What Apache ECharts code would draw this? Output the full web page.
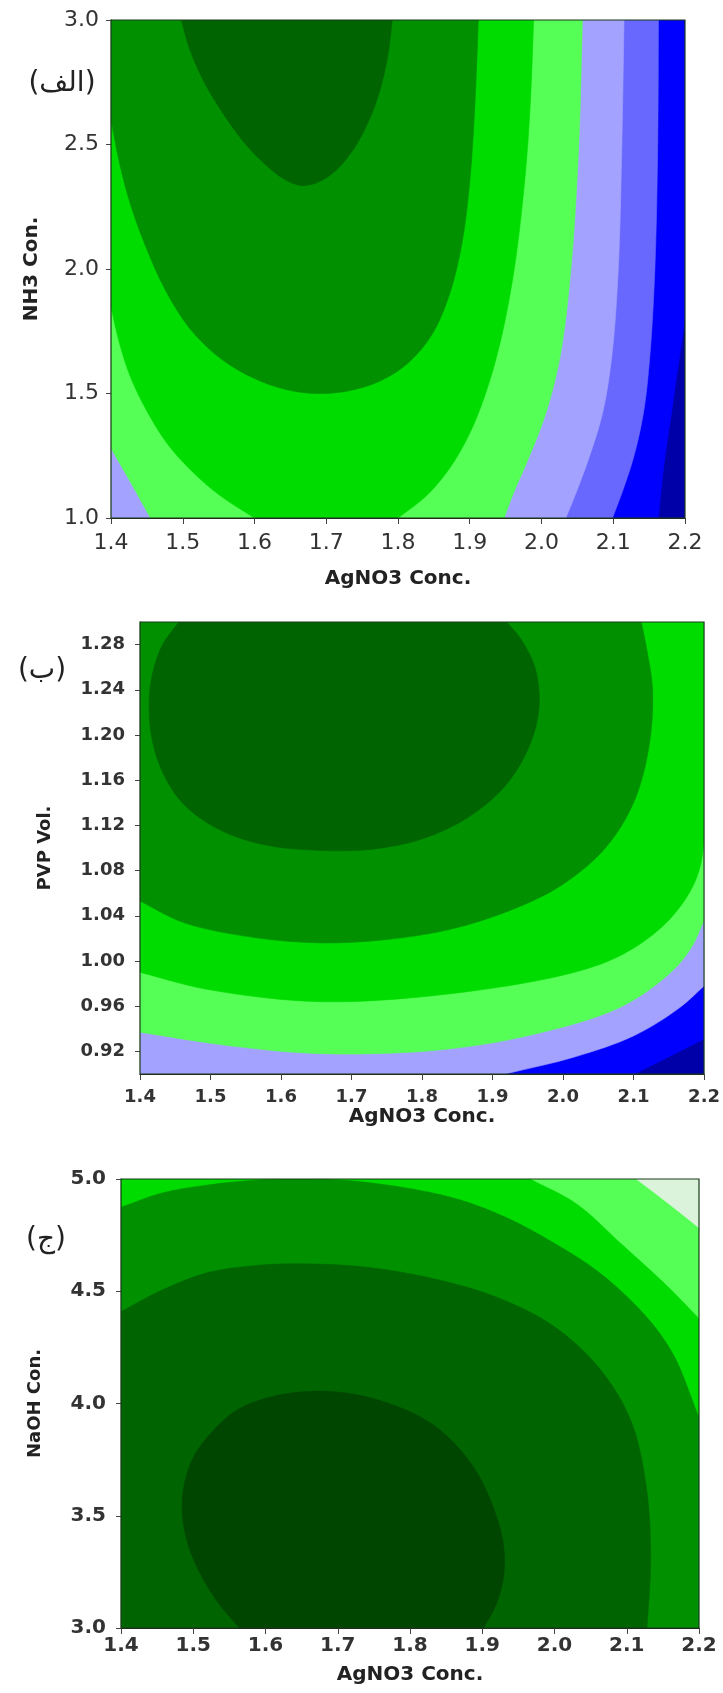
<!DOCTYPE html>
<html><head><meta charset="utf-8">
<script src="https://cdn.jsdelivr.net/npm/echarts@6/dist/echarts.min.js"></script>
<style>html,body{margin:0;padding:0;background:#fff}#c{width:723px;height:1693px}</style>
</head><body><div id="c"></div>
<script>
// ---------- axes ----------
const xRange = [1.4, 2.2];
const yRangeA = [1.0, 3.0];
const yRangeB = [0.9, 1.3];
const yRangeC = [3.0, 5.0];
const yTicksB = [0.92, 0.96, 1.00, 1.04, 1.08, 1.12, 1.16, 1.20, 1.24, 1.28];
const xName = 'AgNO3 Conc.';
const yNames = ['NH3 Con.', 'PVP Vol.', 'NaOH Con.'];
const panelTags = ['(الف)', '(ب)', '(ج)'];

// ---------- colours of the contour bands ----------
const C = {
  navy: '#0000a8', blue: '#0000ff', mblue: '#6868ff', lav: '#a3a3ff',
  pale: '#daf3da', lgreen: '#55ff55', green: '#00dc00', mgreen: '#009000',
  dgreen: '#006500', xgreen: '#004600'
};

// ---------- panel A : AgNO3 vs NH3 (contour boundaries) ----------
const A_navyEdge  = [[2.163,1.0],[2.17,1.2],[2.18,1.4],[2.19,1.6],[2.2,1.8]];
const A_blueEdge  = [[2.163,3.0],[2.162,2.5],[2.158,2.0],[2.151,1.65],[2.142,1.42],[2.128,1.24],[2.112,1.1],[2.099,1.0]];
const A_mblueEdge = [[2.115,3.0],[2.112,2.5],[2.107,2.0],[2.098,1.65],[2.085,1.42],[2.066,1.24],[2.048,1.1],[2.034,1.0]];
const A_lavEdge   = [[2.057,3.0],[2.052,2.5],[2.041,2.0],[2.026,1.65],[2.006,1.42],[1.982,1.24],[1.961,1.1],[1.948,1.0]];
const A_lavCorner = [[1.455,1.0],[1.43,1.13],[1.4,1.28]];
const A_lgreenL   = [[1.4,1.847],[1.412,1.7],[1.428,1.56],[1.45,1.43],[1.478,1.3],[1.512,1.19],[1.552,1.09],[1.6,1.0]];
const A_lgreenR   = [[1.8,1.0],[1.84,1.09],[1.872,1.2],[1.9,1.34],[1.922,1.5],[1.942,1.7],[1.962,2.0],[1.978,2.4],[1.985,2.7],[1.989,3.0]];
const A_greenEdge = [[1.4,2.6],[1.41,2.45],[1.425,2.28],[1.447,2.1],[1.475,1.92],[1.51,1.76],[1.553,1.64],[1.6,1.56],[1.645,1.515],[1.687,1.5],[1.73,1.51],[1.775,1.55],[1.815,1.625],[1.848,1.74],[1.872,1.9],[1.889,2.1],[1.9,2.35],[1.907,2.65],[1.912,3.0]];
const A_mgreenEdge= [[1.498,3.0],[1.51,2.88],[1.53,2.75],[1.555,2.63],[1.585,2.51],[1.615,2.42],[1.642,2.36],[1.665,2.335],[1.69,2.35],[1.715,2.4],[1.74,2.49],[1.76,2.6],[1.775,2.72],[1.786,2.86],[1.792,3.0]];

// ---------- panel B : AgNO3 vs PVP ----------
const B_navyEdge  = [[2.101,0.9],[2.14,0.912],[2.2,0.931]];
const B_blueEdge  = [[1.918,0.9],[2.016,0.915],[2.101,0.934],[2.166,0.959],[2.2,0.978]];
const B_lavEdge   = [[1.4,0.937],[1.527,0.925],[1.657,0.918],[1.82,0.921],[1.951,0.934],[2.081,0.959],[2.153,0.99],[2.182,1.012],[2.2,1.036]];
const B_lgreenEdge= [[1.4,0.99],[1.495,0.975],[1.657,0.964],[1.853,0.972],[2.016,0.99],[2.085,1.006],[2.14,1.03],[2.175,1.056],[2.193,1.08],[2.2,1.105]];
const B_greenEdge = [[1.4,1.053],[1.462,1.034],[1.56,1.021],[1.657,1.016],[1.75,1.019],[1.84,1.028],[1.93,1.046],[2.0,1.068],[2.06,1.1],[2.1,1.14],[2.122,1.19],[2.127,1.24],[2.119,1.275],[2.111,1.3]];
const B_mgreenEdge= [[1.455,1.3],[1.432,1.28],[1.418,1.255],[1.413,1.23],[1.416,1.2],[1.43,1.17],[1.46,1.14],[1.51,1.117],[1.575,1.103],[1.65,1.098],[1.73,1.099],[1.8,1.108],[1.865,1.127],[1.918,1.155],[1.952,1.19],[1.966,1.225],[1.96,1.26],[1.94,1.285],[1.92,1.3]];

// ---------- panel C : AgNO3 vs NaOH ----------
const C_paleEdge  = [[2.112,5.0],[2.157,4.89],[2.2,4.78]];
const C_lgreenEdge= [[1.966,5.0],[2.03,4.89],[2.093,4.709],[2.157,4.52],[2.2,4.378]];
const C_greenEdge = [[1.4,4.874],[1.456,4.937],[1.52,4.973],[1.59,4.995],[1.647,5.0],[1.717,4.992],[1.807,4.953],[1.87,4.906],[1.934,4.827],[1.998,4.717],[2.062,4.583],[2.125,4.394],[2.164,4.22],[2.2,3.937]];
const C_mgreenEdge= [[1.4,4.409],[1.456,4.504],[1.52,4.583],[1.584,4.614],[1.647,4.622],[1.743,4.606],[1.839,4.551],[1.921,4.472],[1.998,4.346],[2.062,4.157],[2.106,3.921],[2.128,3.606],[2.133,3.291],[2.128,3.0]];
const C_dgreenEdge= [[1.564,3.0],[1.535,3.11],[1.51,3.24],[1.493,3.37],[1.485,3.5],[1.487,3.63],[1.5,3.76],[1.525,3.87],[1.56,3.97],[1.608,4.03],[1.666,4.055],[1.725,4.04],[1.78,3.99],[1.83,3.91],[1.868,3.8],[1.895,3.68],[1.916,3.53],[1.929,3.38],[1.93,3.24],[1.92,3.11],[1.902,3.0]];

// ---------- regions (painted from lowest response to highest) ----------
function corners(yr){ return {bl:[[xRange[0],yr[0]]], br:[[xRange[1],yr[0]]], tl:[[xRange[0],yr[1]]], tr:[[xRange[1],yr[1]]]}; }
const kA = corners(yRangeA), kB = corners(yRangeB), kC = corners(yRangeC);

const panels = [
  { yr: yRangeA, layers: [
    {color: C.navy,  pieces: [kA.bl, kA.br, kA.tr, kA.tl]},
    {color: C.blue,  pieces: [A_navyEdge, kA.tr, kA.tl, kA.bl]},
    {color: C.mblue, pieces: [A_blueEdge, kA.bl, kA.tl]},
    {color: C.lav,   pieces: [A_mblueEdge, kA.bl, kA.tl]},
    {color: C.lgreen,pieces: [A_lavEdge, A_lavCorner, kA.tl]},
    {color: C.green, pieces: [A_lgreenL, A_lgreenR, kA.tl]},
    {color: C.mgreen,pieces: [A_greenEdge, kA.tl]},
    {color: C.dgreen,pieces: [A_mgreenEdge]}
  ]},
  { yr: yRangeB, layers: [
    {color: C.navy,  pieces: [kB.bl, kB.br, kB.tr, kB.tl]},
    {color: C.blue,  pieces: [B_navyEdge, kB.tr, kB.tl, kB.bl]},
    {color: C.lav,   pieces: [B_blueEdge, kB.tr, kB.tl, kB.bl]},
    {color: C.lgreen,pieces: [B_lavEdge, kB.tr, kB.tl]},
    {color: C.green, pieces: [B_lgreenEdge, kB.tr, kB.tl]},
    {color: C.mgreen,pieces: [B_greenEdge, kB.tl]},
    {color: C.dgreen,pieces: [B_mgreenEdge]}
  ]},
  { yr: yRangeC, layers: [
    {color: C.pale,  pieces: [kC.bl, kC.br, kC.tr, kC.tl]},
    {color: C.lgreen,pieces: [C_paleEdge, kC.br, kC.bl, kC.tl]},
    {color: C.green, pieces: [C_lgreenEdge, kC.br, kC.bl, kC.tl]},
    {color: C.mgreen,pieces: [C_greenEdge, kC.br, kC.bl]},
    {color: C.dgreen,pieces: [C_mgreenEdge, kC.bl]},
    {color: C.xgreen,pieces: [C_dgreenEdge]}
  ]}
];

// centripetal Catmull-Rom through the read boundary points (pixel space)
function ctrl(p0, p1, p2, p3){
  const d = (a, b) => Math.sqrt(Math.hypot(b[0]-a[0], b[1]-a[1])) || 1e-6;
  const d1 = d(p0,p1), d2 = d(p1,p2), d3 = d(p2,p3);
  const A = d1*d1, B = d2*d2, Cc = d3*d3;
  const b1 = [0,1].map(k => (A*p2[k] - B*p0[k] + (2*A + 3*d1*d2 + B)*p1[k]) / (3*d1*(d1+d2)));
  const b2 = [0,1].map(k => (Cc*p1[k] - B*p3[k] + (2*Cc + 3*d3*d2 + B)*p2[k]) / (3*d3*(d3+d2)));
  return [b1, b2];
}
function buildPath(pieces, api){
  let d = '';
  pieces.forEach((piece, k) => {
    const pts = piece.map(p => api.coord(p));
    const n = pts.length;
    d += (k === 0 ? 'M' : 'L') + pts[0][0] + ' ' + pts[0][1] + ' ';
    for (let i = 0; i < n - 1; i++) {
      const p1 = pts[i], p2 = pts[i+1];
      const p0 = i > 0 ? pts[i-1] : [2*p1[0]-p2[0], 2*p1[1]-p2[1]];
      const p3 = i + 2 < n ? pts[i+2] : [2*p2[0]-p1[0], 2*p2[1]-p1[1]];
      const [c1, c2] = ctrl(p0, p1, p2, p3);
      d += 'C' + c1[0] + ' ' + c1[1] + ' ' + c2[0] + ' ' + c2[1] + ' ' + p2[0] + ' ' + p2[1] + ' ';
    }
  });
  return d + 'Z';
}

const series = [];
panels.forEach((pn, gi) => {
  pn.layers.forEach(layer => {
    const pts = [].concat(...layer.pieces);
    series.push({
      type: 'custom', xAxisIndex: gi, yAxisIndex: gi, silent: true,
      data: pts, encode: {x: 0, y: 1},
      renderItem: (params, api) => {
        if (params.dataIndex !== 0) return null;
        const cs = params.coordSys;
        return {
          type: 'path',
          shape: {pathData: buildPath(layer.pieces, api)},
          style: {fill: layer.color, stroke: layer.color, lineWidth: 0.6},
          clipPath: {type: 'rect', shape: {x: cs.x, y: cs.y, width: cs.width, height: cs.height}}
        };
      }
    });
  });
  // frame
  const fr = [[xRange[0], pn.yr[0]], [xRange[1], pn.yr[1]]];
  series.push({
    type: 'custom', xAxisIndex: gi, yAxisIndex: gi, silent: true, z: 5,
    data: fr, encode: {x: 0, y: 1},
    renderItem: (params, api) => {
      if (params.dataIndex !== 0) return null;
      const a = api.coord(fr[0]), b = api.coord(fr[1]);
      return {type: 'rect', shape: {x: a[0], y: b[1], width: b[0]-a[0], height: a[1]-b[1]},
              style: {fill: null, stroke: '#1a3a1a', lineWidth: 1.2}};
    }
  });
});

const FONT = 'DejaVu Sans';
const labelStyles = [
  {fontSize: 22, fontWeight: 'normal', xm: 14, ym: 12},
  {fontSize: 18, fontWeight: 'bold',   xm: 14, ym: 15},
  {fontSize: 20, fontWeight: 'bold',   xm: 8,  ym: 15}
];
const grids = [
  {left: 111, top: 20,   width: 574, height: 498},
  {left: 140, top: 622,  width: 567, height: 452},
  {left: 121, top: 1179, width: 578, height: 449}
];
const xGaps = [51, 32, 37];
const yGaps = [69, 86, 77];
const yNameSize = [20, 18, 18];

const xAxis = grids.map((g, i) => ({
  type: 'value', gridIndex: i, min: xRange[0], max: xRange[1], interval: 0.1,
  name: xName, nameLocation: 'middle', nameGap: xGaps[i],
  nameTextStyle: {fontFamily: FONT, fontWeight: 'bold', fontSize: 20, color: '#222'},
  axisLine: {show: true, onZero: false, lineStyle: {color: '#222', width: 1.2}},
  axisTick: {show: true, length: 6, lineStyle: {color: '#444'}},
  axisLabel: {fontFamily: FONT, fontSize: labelStyles[i].fontSize, fontWeight: labelStyles[i].fontWeight,
              color: '#333', margin: labelStyles[i].xm, formatter: v => v.toFixed(1), showMinLabel: true, showMaxLabel: true},
  splitLine: {show: false}
}));

const yAxis = [
  {min: yRangeA[0], max: yRangeA[1], interval: 0.5, fmt: v => v.toFixed(1)},
  {min: yRangeB[0], max: yRangeB[1], custom: yTicksB, fmt: v => v.toFixed(2)},
  {min: yRangeC[0], max: yRangeC[1], interval: 0.5, fmt: v => v.toFixed(1)}
].map((a, i) => {
  const ax = {
    type: 'value', gridIndex: i, min: a.min, max: a.max,
    name: yNames[i], nameLocation: 'middle', nameGap: yGaps[i],
    nameTextStyle: {fontFamily: FONT, fontWeight: 'bold', fontSize: yNameSize[i], color: '#222'},
    axisLine: {show: true, onZero: false, lineStyle: {color: '#222', width: 1.2}},
    axisTick: {show: true, length: 5, lineStyle: {color: '#444'}},
    axisLabel: {fontFamily: FONT, fontSize: labelStyles[i].fontSize, fontWeight: labelStyles[i].fontWeight,
                color: '#333', margin: labelStyles[i].ym, formatter: a.fmt},
    splitLine: {show: false}
  };
  if (a.custom) {
    ax.axisLabel.customValues = a.custom;
    ax.axisTick.customValues = a.custom;
  } else {
    ax.interval = a.interval;
  }
  return ax;
});

const tagPos = [[62, 84], [42, 671], [46, 1240]];
const graphic = panelTags.map((t, i) => ({
  type: 'text', x: tagPos[i][0], y: tagPos[i][1], silent: true,
  style: {text: t, fontFamily: FONT, fontSize: 28, fill: '#222', align: 'center', verticalAlign: 'middle'}
}));

const chart = echarts.init(document.getElementById('c'), null, {renderer: 'canvas'});
chart.setOption({
  animation: false,
  backgroundColor: '#ffffff',
  grid: grids.map(g => Object.assign({containLabel: false}, g)),
  xAxis, yAxis, series, graphic
});
</script></body></html>
